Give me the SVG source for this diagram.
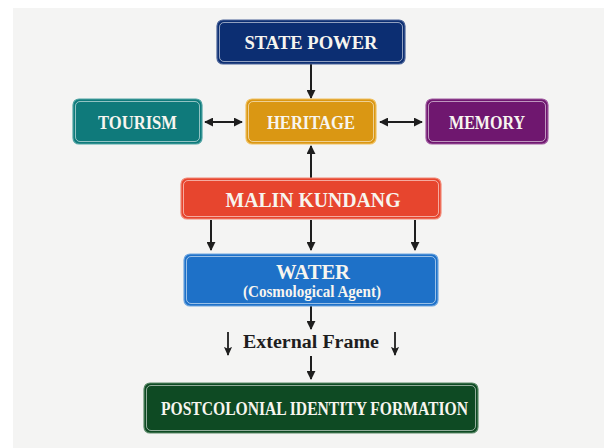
<svg xmlns="http://www.w3.org/2000/svg" width="604" height="448" viewBox="0 0 604 448">
  <style>
    .box { stroke-width: 1.2; }
    .inner { fill: none; stroke: #ffffff; stroke-opacity: 0.55; stroke-width: 1; }
    .lbl { font-family: "Liberation Serif", "Times New Roman", serif; font-weight: bold; fill: #f7f5ef; text-anchor: middle; }
    .sub { font-family: "Liberation Serif", "Times New Roman", serif; font-weight: bold; fill: #f7f5ef; text-anchor: middle; }
    .frame { font-family: "Liberation Serif", "Times New Roman", serif; font-weight: bold; fill: #1e1e1e; text-anchor: middle; }
    .conn { stroke: #1e1e1e; stroke-width: 2; fill: none; }
    .thin { stroke: #1e1e1e; stroke-width: 1.8; fill: none; }
  </style>
  <defs>
    <marker id="head" viewBox="0 0 10 10" refX="9" refY="5" markerWidth="9" markerHeight="9" markerUnits="userSpaceOnUse" orient="auto-start-reverse">
      <path d="M0,0 L10,5 L0,10 z" fill="#1e1e1e"/>
    </marker>
    <marker id="head-sm" viewBox="0 0 10 10" refX="9" refY="5" markerWidth="9" markerHeight="9" markerUnits="userSpaceOnUse" orient="auto">
      <path d="M0,0.5 L10,5 L0,9.5 L2,5 z" fill="#1e1e1e"/>
    </marker>
  </defs>

  <!-- page -->
  <rect x="0" y="0" width="604" height="448" fill="#ffffff"/>
  <rect x="13" y="8" width="591" height="440" fill="#f4f4f3"/>

  <!-- connectors -->
  <g id="connectors">
    <path class="conn" d="M311,64 L311,98" marker-end="url(#head)"/>
    <path class="conn" d="M205,122 L242,122" marker-start="url(#head)" marker-end="url(#head)"/>
    <path class="conn" d="M380,122 L422,122" marker-start="url(#head)" marker-end="url(#head)"/>
    <path class="conn" d="M311,178 L311,146" marker-end="url(#head)"/>
    <path class="conn" d="M211,220 L211,250" marker-end="url(#head)"/>
    <path class="conn" d="M311,220 L311,250" marker-end="url(#head)"/>
    <path class="conn" d="M415,220 L415,250" marker-end="url(#head)"/>
    <path class="conn" d="M311,306 L311,329" marker-end="url(#head)"/>
    <path class="thin" d="M228,332 L228,355" marker-end="url(#head-sm)"/>
    <path class="thin" d="M395,332 L395,355" marker-end="url(#head-sm)"/>
    <path class="conn" d="M311,356 L311,379" marker-end="url(#head)"/>
    <text class="frame" x="311" y="348" font-size="18" textLength="136" lengthAdjust="spacingAndGlyphs">External Frame</text>
  </g>

  <g id="state-power">
    <rect class="box" x="217" y="20" width="188" height="44" rx="6" fill="#0c2e72" stroke="#4a6398"/>
    <rect class="inner" x="219.5" y="22.5" width="183" height="39" rx="4.5"/>
    <text class="lbl" x="311" y="49" font-size="19.5" textLength="133" lengthAdjust="spacingAndGlyphs">STATE POWER</text>
  </g>

  <g id="tourism">
    <rect class="box" x="73" y="99" width="129" height="45" rx="6" fill="#0f7a7b" stroke="#4fa3a3"/>
    <rect class="inner" x="75.5" y="101.5" width="124" height="40" rx="4.5"/>
    <text class="lbl" x="137.5" y="129" font-size="18" textLength="79" lengthAdjust="spacingAndGlyphs">TOURISM</text>
  </g>

  <g id="heritage">
    <rect class="box" x="246" y="99" width="130" height="45" rx="6" fill="#da9713" stroke="#f0c060"/>
    <rect class="inner" x="248.5" y="101.5" width="125" height="40" rx="4.5"/>
    <text class="lbl" x="311" y="129" font-size="18.5" textLength="88" lengthAdjust="spacingAndGlyphs">HERITAGE</text>
  </g>

  <g id="memory">
    <rect class="box" x="426" y="99" width="122" height="45" rx="6" fill="#6f176f" stroke="#a05aa0"/>
    <rect class="inner" x="428.5" y="101.5" width="117" height="40" rx="4.5"/>
    <text class="lbl" x="487" y="129" font-size="18" textLength="76" lengthAdjust="spacingAndGlyphs">MEMORY</text>
  </g>

  <g id="malin-kundang">
    <rect class="box" x="181" y="178" width="260" height="41" rx="6" fill="#e7452e" stroke="#f28a78"/>
    <rect class="inner" x="183.5" y="180.5" width="255" height="36" rx="4.5"/>
    <text class="lbl" x="313" y="206.5" font-size="20" textLength="175" lengthAdjust="spacingAndGlyphs">MALIN KUNDANG</text>
  </g>

  <g id="water">
    <rect class="box" x="184" y="254" width="254" height="52" rx="6" fill="#1e71c8" stroke="#6ea6e0"/>
    <rect class="inner" x="186.5" y="256.5" width="249" height="47" rx="4.5"/>
    <text class="lbl" x="313" y="279" font-size="21" textLength="74" lengthAdjust="spacingAndGlyphs">WATER</text>
    <text class="sub" x="312" y="297" font-size="17" textLength="138" lengthAdjust="spacingAndGlyphs">(Cosmological Agent)</text>
  </g>

  <g id="postcolonial-identity">
    <rect class="box" x="144" y="383" width="334" height="50" rx="6" fill="#0e4a23" stroke="#5a8a68"/>
    <rect class="inner" x="146.5" y="385.5" width="329" height="45" rx="4.5"/>
    <text class="lbl" x="314.5" y="415" font-size="19.5" textLength="307" lengthAdjust="spacingAndGlyphs">POSTCOLONIAL IDENTITY FORMATION</text>
  </g>
</svg>
